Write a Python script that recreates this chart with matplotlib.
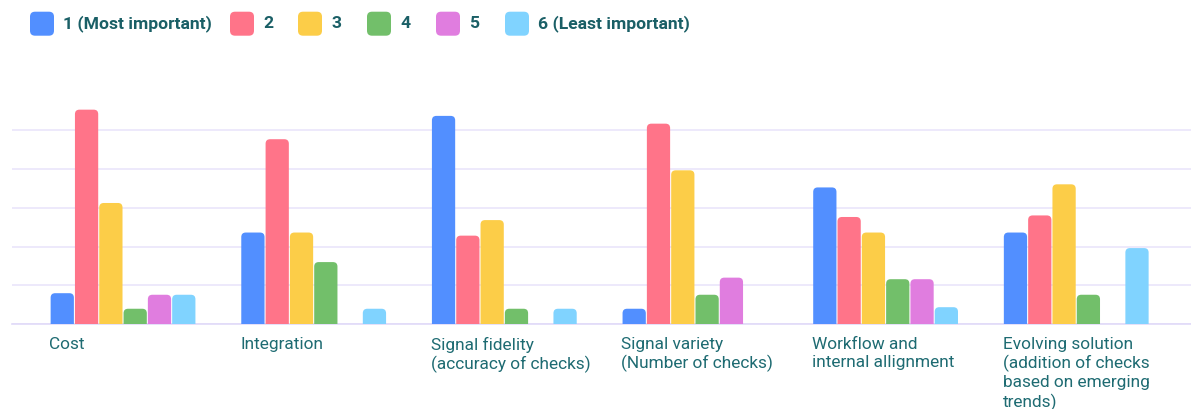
import matplotlib
matplotlib.use("Agg")
import matplotlib.pyplot as plt
from matplotlib.patches import FancyBboxPatch, PathPatch
from matplotlib.path import Path
from matplotlib.transforms import blended_transform_factory
import numpy as np

categories = [
    "Cost",
    "Integration",
    "Signal fidelity\n(accuracy of checks)",
    "Signal variety\n(Number of checks)",
    "Workflow and\ninternal allignment",
    "Evolving solution\n(addition of checks\nbased on emerging\ntrends)",
]
series_names = ["1 (Most important)", "2", "3", "4", "5", "6 (Least important)"]
rank1 = [2.0, 5.9, 13.4, 1.0, 8.8, 5.9]
rank2 = [13.8, 11.9, 5.7, 12.9, 6.9, 7.0]
rank3 = [7.8, 5.9, 6.7, 9.9, 5.9, 9.0]
rank4 = [1.0, 4.0, 1.0, 1.9, 2.9, 1.9]
rank5 = [1.9, 0.0, 0.0, 3.0, 2.9, 0.0]
rank6 = [1.9, 1.0, 1.0, 0.0, 1.1, 4.9]
series = [rank1, rank2, rank3, rank4, rank5, rank6]
colors = ["#528FFF", "#FF7489", "#FCCD48", "#72BF6A", "#E07DDF", "#80D3FF"]
yticks = [0, 2.5, 5, 7.5, 10, 12.5]

W, H = 1191, 409
fig = plt.figure(figsize=(W / 100, H / 100), dpi=100)
ax = fig.add_axes([11.7 / W, (H - 324.3) / H, 1 - 11.7 / W, (324.3 - 91) / H])

n = len(categories)
x = np.arange(n)
slot = 0.1275
bw = 0.122
xlim = (-0.584, 5.602)
ylim = (0, 15)
ax.set_xlim(*xlim)
ax.set_ylim(*ylim)

ax_w_px = W - 11.7
ax_h_px = 324.3 - 91
xu_per_px = (xlim[1] - xlim[0]) / ax_w_px
yu_per_px = (ylim[1] - ylim[0]) / ax_h_px
r_px = 4.5


def rounded_top_bar(x0, w, h):
    rx = min(r_px * xu_per_px, w / 2)
    ry = min(r_px * yu_per_px, h)
    verts = [
        (x0, 0), (x0, h - ry), (x0, h), (x0 + rx, h),
        (x0 + w - rx, h), (x0 + w, h), (x0 + w, h - ry),
        (x0 + w, 0), (x0, 0),
    ]
    codes = [Path.MOVETO, Path.LINETO, Path.CURVE3, Path.CURVE3,
             Path.LINETO, Path.CURVE3, Path.CURVE3, Path.LINETO,
             Path.CLOSEPOLY]
    return Path(verts, codes)


for k, (vals, col) in enumerate(zip(series, colors)):
    for i, v in enumerate(vals):
        if v <= 0:
            continue
        xc = x[i] + (k - 2.5) * slot
        path = rounded_top_bar(xc - bw / 2, bw, v)
        ax.add_patch(PathPatch(path, facecolor=col, edgecolor="none", zorder=3))

ax.set_yticks(yticks)
ax.yaxis.grid(True, color="#EAE5FB", linewidth=1.2, zorder=0)
ax.set_axisbelow(True)
ax.tick_params(left=False, bottom=False, labelleft=False, labelbottom=False)
for s in ["top", "right", "left"]:
    ax.spines[s].set_visible(False)
ax.spines["bottom"].set_color("#E0DAF8")
ax.spines["bottom"].set_linewidth(1.2)

trans = blended_transform_factory(ax.transData, ax.transAxes)
for i, lab in enumerate(categories):
    ax.text(x[i] - 3 * slot + (slot - bw) / 2 - 1.2 * xu_per_px, -0.053, lab,
            transform=trans, ha="left", va="top", fontsize=12.4,
            color="#1E6B72", family=["Roboto", "DejaVu Sans"], linespacing=1.25)

# legend
lx = [30, 230, 298, 367, 436, 505]
for k, (name, col) in enumerate(zip(series_names, colors)):
    px = lx[k]
    sw = FancyBboxPatch((px / W, (H - 35.7) / H), 24 / W, 24 / H,
                        boxstyle=f"round,pad=0,rounding_size={5 / W}",
                        mutation_aspect=W / H,
                        transform=fig.transFigure, facecolor=col,
                        edgecolor="none")
    fig.patches.append(sw)
    fig.text((px + 33) / W, (H - 24) / H, name, ha="left", va="center",
             fontsize=12.6, fontweight="bold", color="#1A5F66",
             family=["Roboto", "DejaVu Sans"])

fig.savefig("out.png", dpi=100, facecolor="white")
